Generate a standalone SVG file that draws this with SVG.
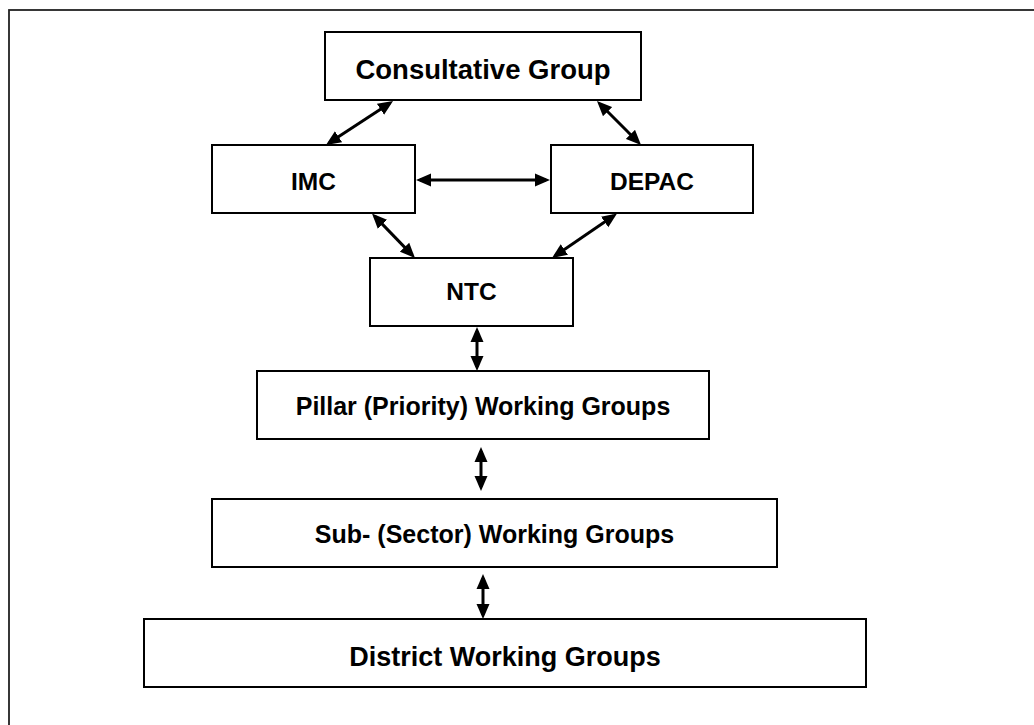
<svg xmlns="http://www.w3.org/2000/svg" width="1034" height="725" viewBox="0 0 1034 725">
<style>
.box{fill:#fff;stroke:#000;stroke-width:2}
.lbl{font-family:"Liberation Sans",Arial,sans-serif;font-weight:bold;fill:#000;text-anchor:middle}
.con{stroke:#000;stroke-width:3;fill:none;marker-start:url(#ah);marker-end:url(#ah)}
</style>
<defs>
<marker id="ah" markerUnits="userSpaceOnUse" markerWidth="16" markerHeight="14" refX="11" refY="6.5" orient="auto-start-reverse" viewBox="0 0 16 13">
<path d="M0,0 L15,6.5 L0,13 Z" fill="#000"/>
</marker>
</defs>
<rect x="0" y="0" width="1034" height="725" fill="#fff"/>
<rect id="frame" x="9" y="10" width="1040" height="730" fill="none" stroke="#222" stroke-width="1.8"/>
<g id="connectors">
<line class="con" x1="389.7" y1="103.2" x2="329.3" y2="142.8"/>
<line class="con" x1="599.8" y1="103.8" x2="638.2" y2="142.2"/>
<line class="con" x1="420" y1="180" x2="546" y2="180"/>
<line class="con" x1="374.8" y1="216.4" x2="412.2" y2="255.1"/>
<line class="con" x1="613.7" y1="215.8" x2="555.3" y2="255.7"/>
<line class="con" x1="477" y1="331" x2="477" y2="367"/>
<line class="con" x1="481" y1="451" x2="481" y2="487"/>
<line class="con" x1="483" y1="578" x2="483" y2="615"/>
</g>
<g id="consultative">
<rect class="box" x="325" y="32" width="316" height="68"/>
<text class="lbl" x="483" y="79" font-size="27.5">Consultative Group</text>
</g>
<g id="imc">
<rect class="box" x="212" y="145" width="203" height="68"/>
<text class="lbl" x="313.5" y="190" font-size="24.5">IMC</text>
</g>
<g id="depac">
<rect class="box" x="551" y="145" width="202" height="68"/>
<text class="lbl" x="652" y="190" font-size="24.5">DEPAC</text>
</g>
<g id="ntc">
<rect class="box" x="370" y="258" width="203" height="68"/>
<text class="lbl" x="471.5" y="300" font-size="24.5">NTC</text>
</g>
<g id="pillar">
<rect class="box" x="257" y="371" width="452" height="68"/>
<text class="lbl" x="483" y="415" font-size="25">Pillar (Priority) Working Groups</text>
</g>
<g id="sub">
<rect class="box" x="212" y="499" width="565" height="68"/>
<text class="lbl" x="494.5" y="543" font-size="25">Sub- (Sector) Working Groups</text>
</g>
<g id="district">
<rect class="box" x="144" y="619" width="722" height="68"/>
<text class="lbl" x="505" y="666" font-size="27">District Working Groups</text>
</g>
</svg>
